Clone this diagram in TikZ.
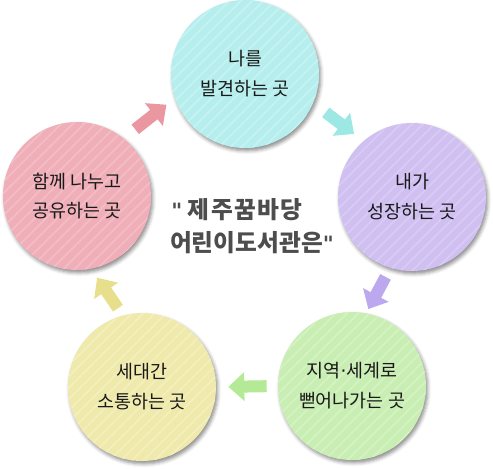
\documentclass[tikz,border=0pt]{standalone}
\usepackage{fontspec}
\setmainfont{Noto Sans CJK KR}
\newfontfamily\quotefont{DejaVu Sans}
\usetikzlibrary{arrows.meta,shadows.blur,patterns.meta}

\definecolor{cyanfill}{HTML}{B6EEEE}
\definecolor{cyanline}{HTML}{C6F2F2}
\definecolor{cyanarrow}{HTML}{9DE7E5}
\definecolor{purplefill}{HTML}{CFC0F1}
\definecolor{purpleline}{HTML}{D9CCF4}
\definecolor{purplearrow}{HTML}{BBA8EE}
\definecolor{greenfill}{HTML}{C9EEB3}
\definecolor{greenline}{HTML}{D5F2C3}
\definecolor{greenarrow}{HTML}{B4EA95}
\definecolor{yellowfill}{HTML}{EFEAAB}
\definecolor{yellowline}{HTML}{F3EFBE}
\definecolor{yellowarrow}{HTML}{E8DF8D}
\definecolor{pinkfill}{HTML}{EFAEB8}
\definecolor{pinkline}{HTML}{F3BDC6}
\definecolor{pinkarrow}{HTML}{EA97A1}
\definecolor{titlegray}{HTML}{4D4D4D}

\newcommand{\qmark}{{\quotefont\fontsize{12}{14}\selectfont\textquotedbl}}
\newcommand{\middot}{{\quotefont ·}}

\tikzset{
  place/.style={circle, minimum size=2.96cm, inner sep=0pt, align=center,
    font=\fontsize{10.5}{17}\selectfont, text=black!90, fill=#1fill,
    postaction={pattern={Lines[angle=45,distance=0.16cm,line width=0.035cm]}, pattern color=#1line},
    blur shadow={shadow xshift=1pt, shadow yshift=-1.6pt, shadow blur radius=2pt, shadow opacity=45}},
  flow/.style={draw=#1arrow, line width=0.24cm, -{Triangle[length=0.32cm,width=0.56cm,fill=#1arrow]}},
  titletext/.style={font=\fontsize{13.5}{16}\selectfont\bfseries, text=titlegray}
}

\begin{document}
\begin{tikzpicture}[x=0.02cm, y=-0.02cm]
    \useasboundingbox (0,0) rectangle (493,468);
    \node[place=cyan]   (find)   at (245,74)  {나를\\발견하는 곳};
    \node[place=purple] (grow)   at (412,197) {내가\\성장하는 곳};
    \node[place=green]  (world)  at (352,386) {지역\middot 세계로\\뻗어나가는 곳};
    \node[place=yellow] (talk)   at (142,387) {세대간\\소통하는 곳};
    \node[place=pink]   (share)  at (77,196)  {함께 나누고\\공유하는 곳};
    \node[titletext] (title1) at (237,210) {\qmark\ \addfontfeature{LetterSpace=6}제주꿈바당};
    \node[titletext] (title2) at (252,243) {어린이도서관은\qmark};
    \draw[flow=pink, shorten <=0.29cm, shorten >=0.21cm] (share.51) -- (find.199);
    \draw[flow=cyan, shorten <=0.31cm, shorten >=0.23cm] (find.337) -- (grow.131);
    \draw[flow=purple, shorten <=0.20cm, shorten >=0.09cm] (grow.253) -- (world.79);
    \draw[flow=green, shorten <=0.22cm, shorten >=0.24cm] (world.west) -- (talk.east);
    \draw[flow=yellow, shorten <=0.17cm, shorten >=0.21cm] (talk.105) -- (share.281);
\end{tikzpicture}
\end{document}
